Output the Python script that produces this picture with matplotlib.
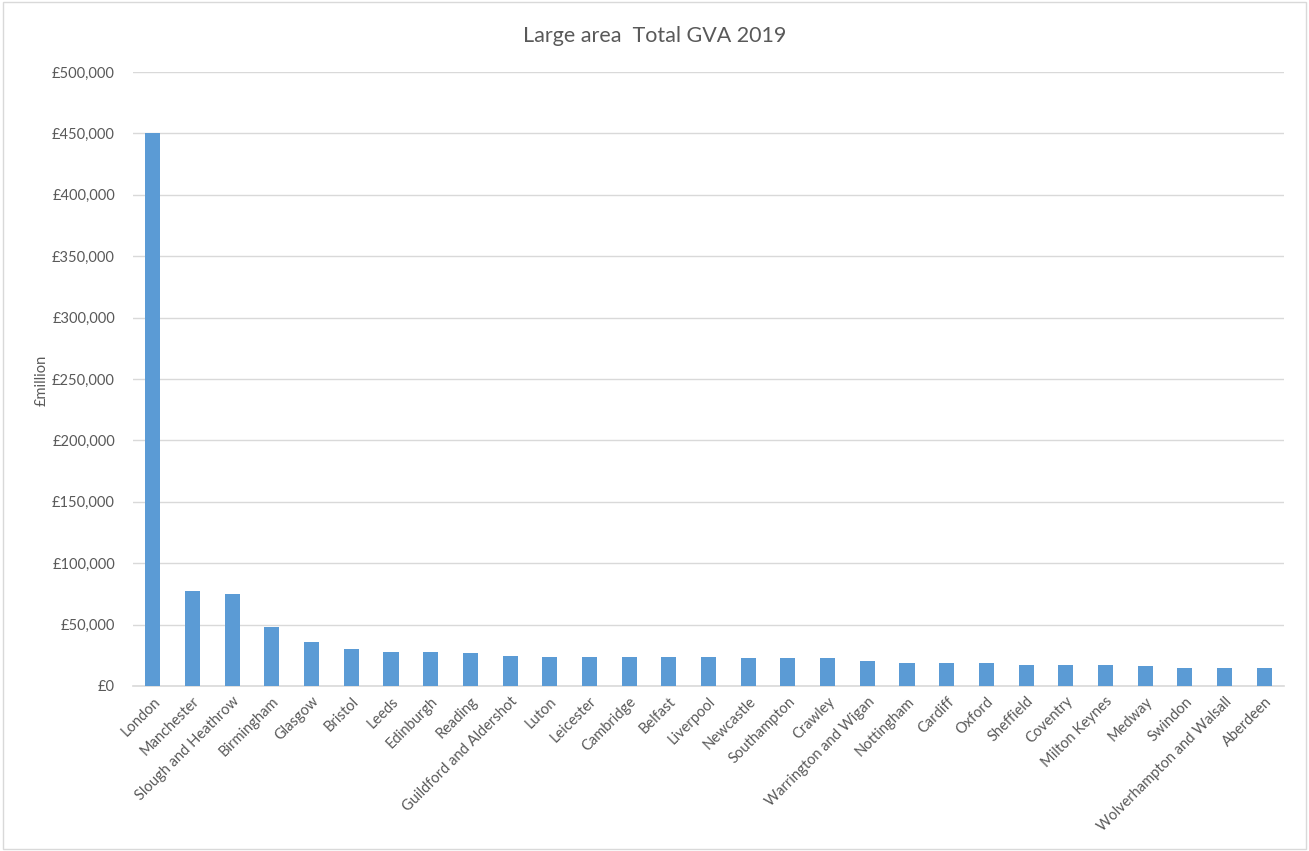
import matplotlib
matplotlib.use("Agg")
import matplotlib.pyplot as plt
from matplotlib.patches import Rectangle
from matplotlib.ticker import FuncFormatter

# Total GVA 2019 for large areas, £million
areas = [
    "London", "Manchester", "Slough and Heathrow", "Birmingham", "Glasgow",
    "Bristol", "Leeds", "Edinburgh", "Reading", "Guildford and Aldershot",
    "Luton", "Leicester", "Cambridge", "Belfast", "Liverpool", "Newcastle",
    "Southampton", "Crawley", "Warrington and Wigan", "Nottingham", "Cardiff",
    "Oxford", "Sheffield", "Coventry", "Milton Keynes", "Medway", "Swindon",
    "Wolverhampton and Walsall", "Aberdeen",
]
gva = [
    450000, 77400, 75200, 48000, 35500,
    29800, 27600, 27600, 26900, 24700,
    23900, 23900, 23900, 23400, 23400, 22600,
    22600, 22600, 20400, 19000, 19000,
    19000, 17400, 16900, 16900, 16100, 14500,
    14500, 14500,
]
yticks = [0, 50000, 100000, 150000, 200000, 250000, 300000, 350000, 400000, 450000, 500000]

text_col = "#595959"
grid_col = "#D9D9D9"
bar_col = "#5B9BD5"

plt.rcParams["font.family"] = ["Lato", "DejaVu Sans"]

fig = plt.figure(figsize=(13.09, 8.51), dpi=100)
ax = fig.add_axes([0.1016, 0.1939, 0.8794, 0.7215])

x = range(len(areas))
ax.bar(x, gva, width=0.38, color=bar_col, zorder=3)

ax.set_xlim(-0.5, len(areas) - 0.5)
ax.set_ylim(0, 500000)
ax.set_yticks(yticks)
ax.yaxis.set_major_formatter(FuncFormatter(lambda v, p: f"£{v:,.0f}"))
ax.set_xticks(list(x))
ax.set_xticklabels(areas, rotation=45, ha="right", rotation_mode="anchor")

ax.grid(axis="y", color=grid_col, linewidth=1.0, zorder=0)
for side in ["top", "right", "left"]:
    ax.spines[side].set_visible(False)
ax.spines["bottom"].set_color(grid_col)
ax.spines["bottom"].set_linewidth(1.2)
ax.tick_params(axis="both", length=0, colors=text_col, labelsize=10.5)
ax.tick_params(axis="y", pad=13)
ax.tick_params(axis="x", pad=6)

fig.text(0.5, 0.958, "Large area  Total GVA 2019", ha="center", va="center",
         fontsize=15.5, color=text_col)
fig.text(0.032, 0.553, "£million", rotation=90, ha="center", va="center",
         fontsize=10.5, color=text_col)

# light frame round the whole chart
fig.patches.append(Rectangle((0.002, 0.002), 0.996, 0.996, transform=fig.transFigure,
                             fill=False, edgecolor=grid_col, linewidth=1.0))

fig.savefig("out.png", dpi=100)
